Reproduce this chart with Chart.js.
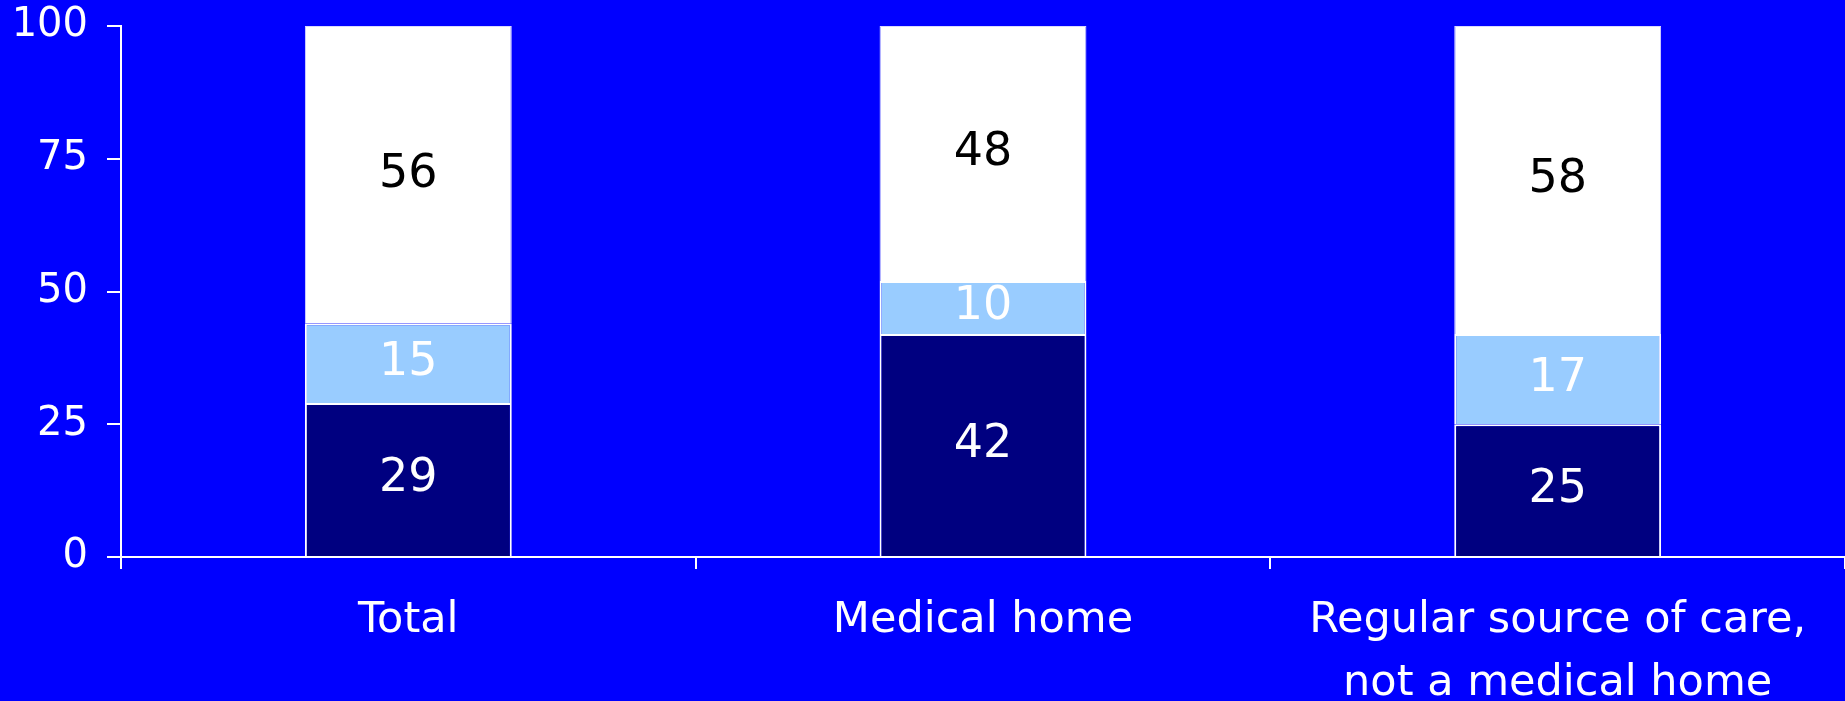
<!DOCTYPE html>
<html lang="en">
<head>
    <meta charset="UTF-8">
    <title>Regular source of care</title>
    <script src="https://cdn.jsdelivr.net/npm/chart.js"></script>
    <style>
        html, body {
            margin: 0;
            padding: 0;
            background-color: #0000FF;
            overflow: hidden;
        }
        #wrap {
            position: relative;
            width: 1845px;
            height: 701px;
        }
    </style>
</head>
<body>
    <div id="wrap"><canvas id="careChart"></canvas></div>

    <script>
        const categories = ['Total', 'Medical home', ['Regular source of care,', 'not a medical home']];
        const bottomValues = [29, 42, 25];
        const middleValues = [15, 10, 17];
        const topValues = [56, 48, 58];
        const yTicks = [0, 25, 50, 75, 100];

        const FONT = '"DejaVu Sans", sans-serif';

        // draws the number in the middle of each stacked segment
        const valueLabels = {
            id: 'valueLabels',
            afterDatasetsDraw(chart) {
                const ctx = chart.ctx;
                ctx.save();
                ctx.font = '46px ' + FONT;
                ctx.textAlign = 'center';
                ctx.textBaseline = 'middle';
                chart.data.datasets.forEach((ds, i) => {
                    ctx.fillStyle = ds.labelColor;
                    chart.getDatasetMeta(i).data.forEach((bar, j) => {
                        const p = bar.getProps(['x', 'y', 'base'], true);
                        ctx.fillText(ds.data[j], p.x, (p.y + p.base) / 2);
                    });
                });
                ctx.restore();
            }
        };

        const ctx = document.getElementById('careChart').getContext('2d');
        new Chart(ctx, {
            type: 'bar',
            data: {
                labels: categories,
                datasets: [{
                    data: bottomValues,
                    backgroundColor: '#000080',
                    borderColor: '#FFFFFF',
                    borderWidth: 2,
                    labelColor: '#FFFFFF'
                },
                {
                    data: middleValues,
                    backgroundColor: '#99CCFF',
                    borderColor: '#FFFFFF',
                    borderWidth: 2,
                    labelColor: '#FFFFFF'
                },
                {
                    data: topValues,
                    backgroundColor: '#FFFFFF',
                    borderColor: '#D8D8FF',
                    borderWidth: 1,
                    labelColor: '#000000'
                }]
            },
            options: {
                responsive: true,
                maintainAspectRatio: false,
                animation: false,
                layout: { padding: { top: 26, right: 0, left: 0, bottom: 0 } },
                datasets: {
                    bar: { categoryPercentage: 1, barPercentage: 0.36 }
                },
                plugins: {
                    legend: { display: false },
                    tooltip: { enabled: false }
                },
                scales: {
                    x: {
                        stacked: true,
                        afterFit: s => { s.height = 144; },
                        border: { color: '#FFFFFF', width: 2 },
                        grid: { drawOnChartArea: false, color: '#FFFFFF', tickLength: 12, lineWidth: 2 },
                        ticks: {
                            color: '#FFFFFF',
                            padding: 21,
                            maxRotation: 0,
                            autoSkip: false,
                            font: { family: FONT, size: 43, lineHeight: 1.45 }
                        }
                    },
                    y: {
                        stacked: true,
                        min: 0,
                        max: 100,
                        afterFit: s => { s.width = 121; s.paddingTop = 0; s.paddingBottom = 0; },
                        afterBuildTicks: s => { s.ticks = yTicks.map(v => ({ value: v })); },
                        border: { color: '#FFFFFF', width: 2 },
                        grid: { drawOnChartArea: false, color: '#FFFFFF', tickLength: 14, lineWidth: 2 },
                        ticks: {
                            color: '#FFFFFF',
                            padding: 19,
                            font: { family: FONT, size: 40 }
                        }
                    }
                }
            },
            plugins: [valueLabels]
        });
    </script>
</body>
</html>
